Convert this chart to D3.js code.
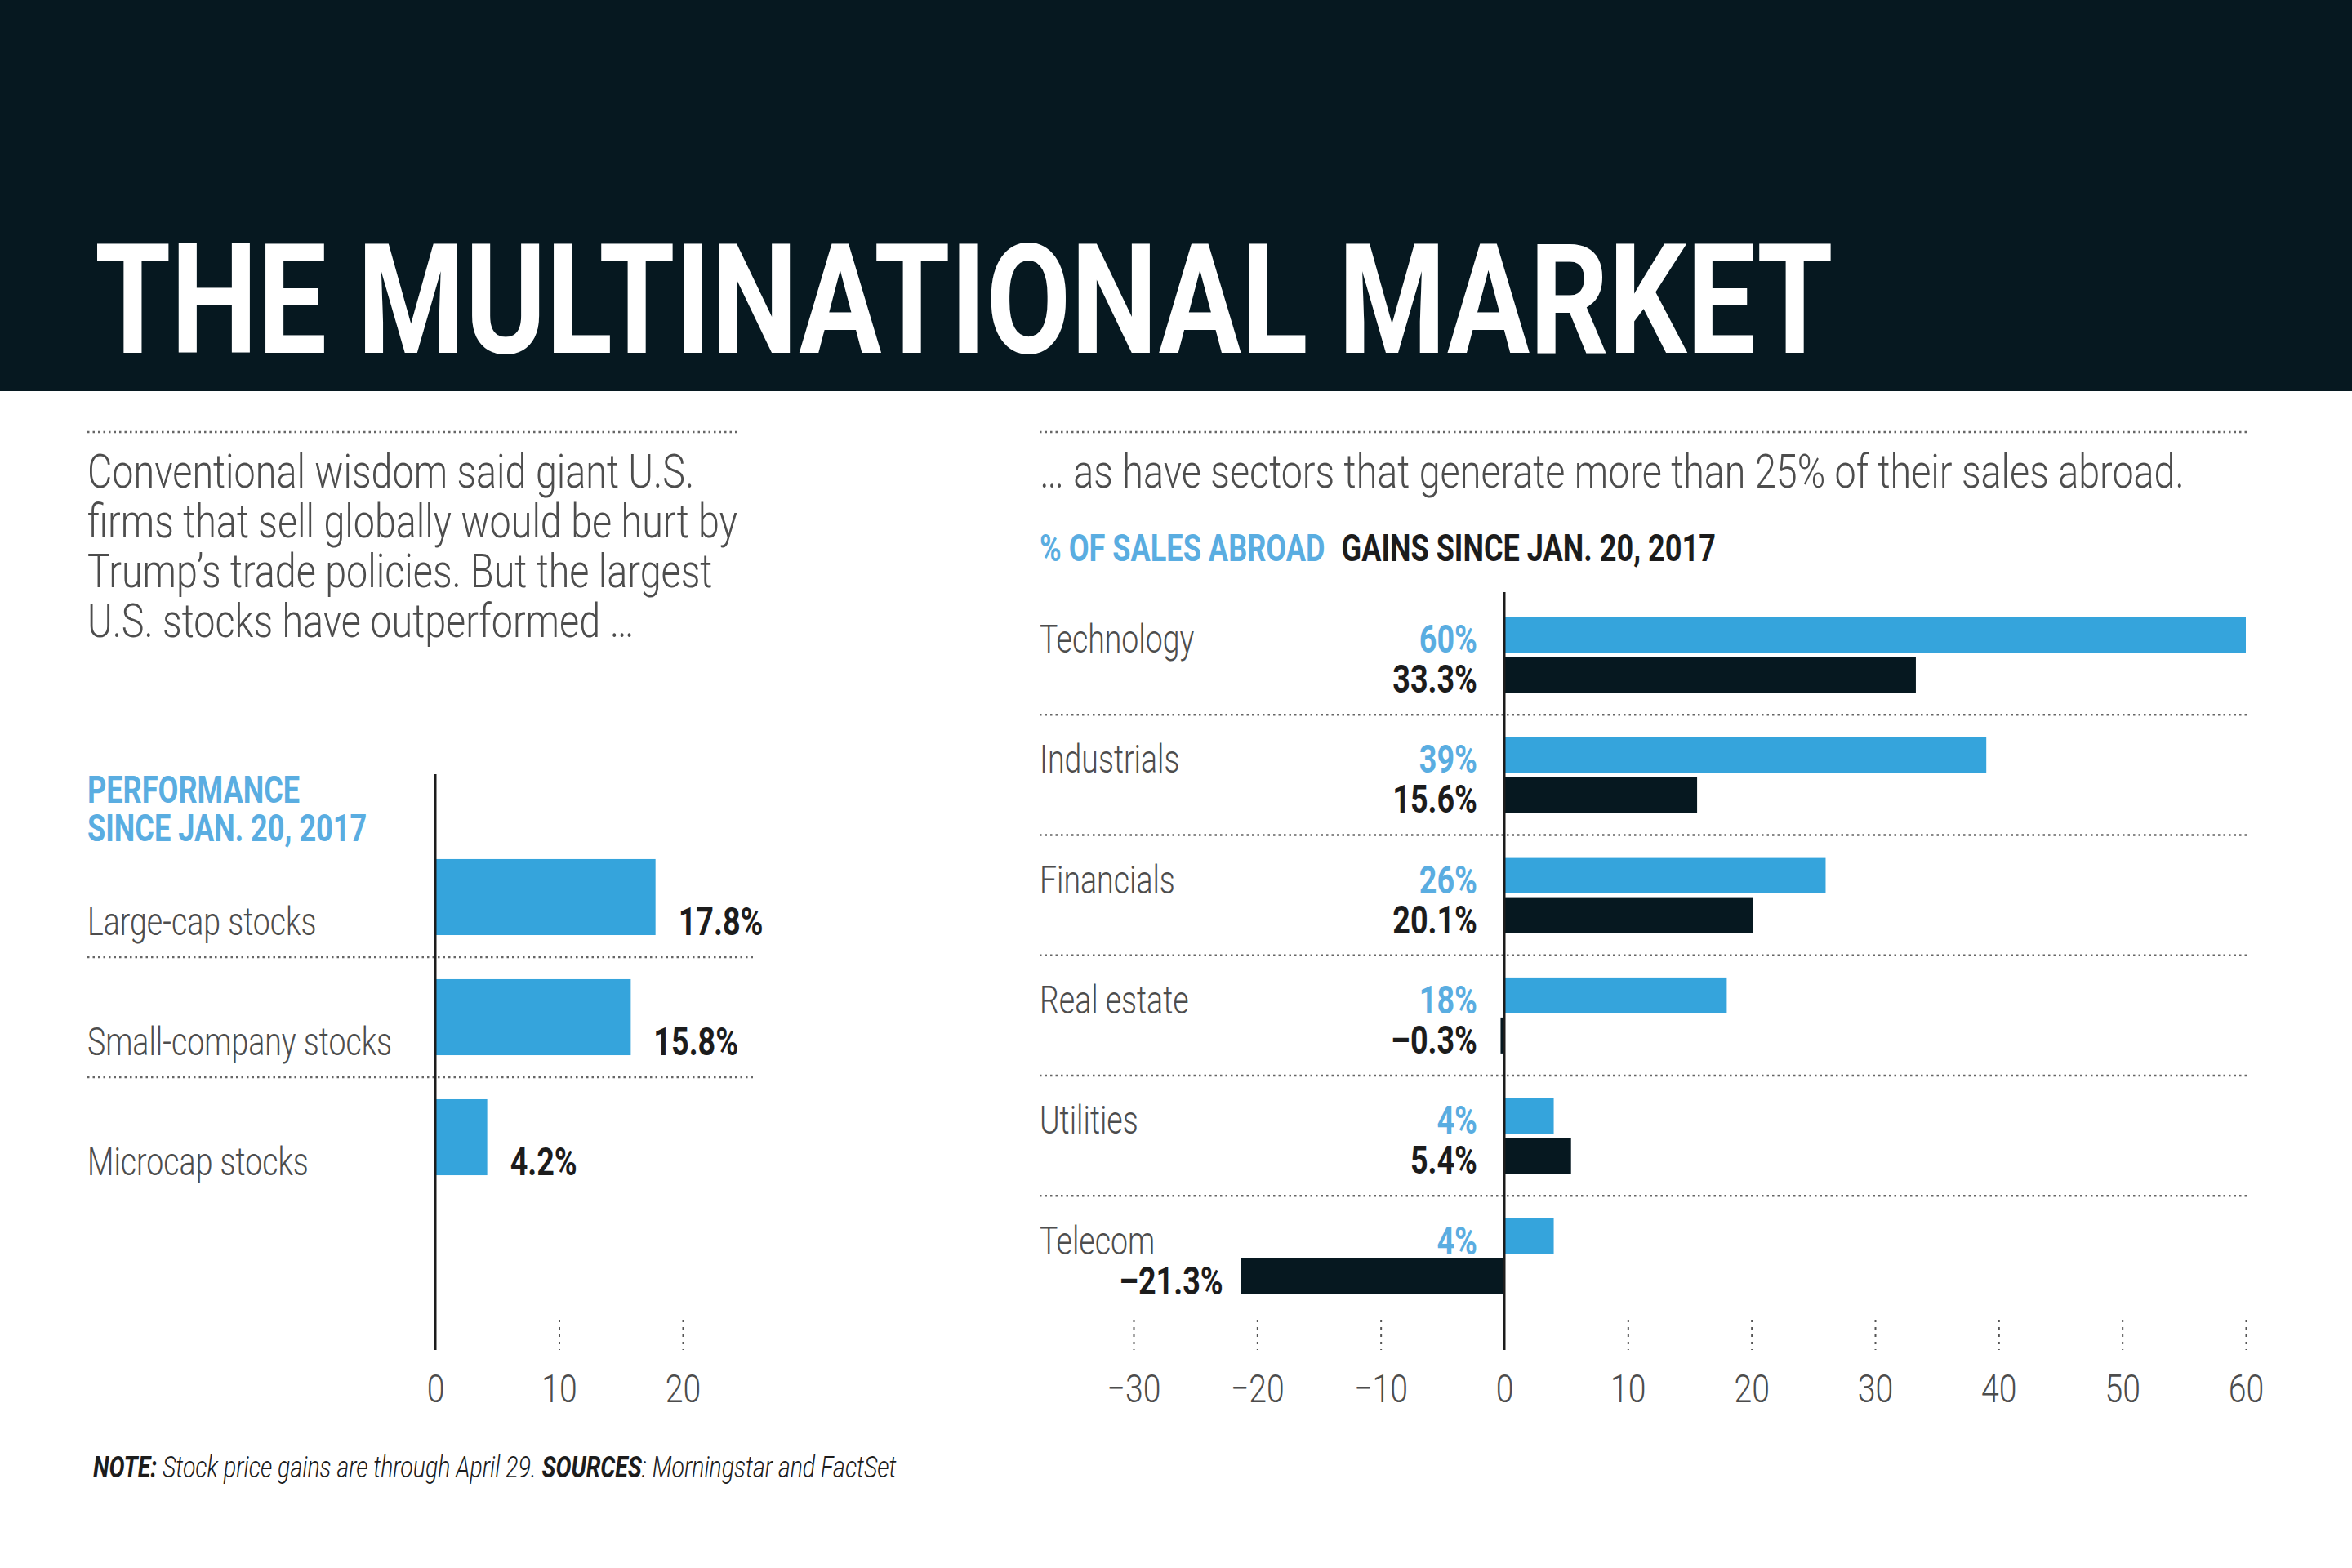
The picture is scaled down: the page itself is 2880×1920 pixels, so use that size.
<!DOCTYPE html>
<html>
<head>
<meta charset="utf-8">
<script src="https://cdn.jsdelivr.net/npm/d3@7"></script>
<style>
  body { margin: 0; background: #fff; }
  svg { display: block; font-family: Roboto, "Noto Sans", sans-serif; }
</style>
</head>
<body>
<script>
// ---- data ----
const titleText = "THE MULTINATIONAL MARKET";
const introLines = [
    "Conventional wisdom said giant U.S.",
    "firms that sell globally would be hurt by",
    "Trump\u2019s trade policies. But the largest",
    "U.S. stocks have outperformed \u2026"
];
const subtitleText = "\u2026 as have sectors that generate more than 25% of their sales abroad.";

const sizeCategories = ["Large-cap stocks", "Small-company stocks", "Microcap stocks"];
const sizeGains = [17.8, 15.8, 4.2];
const sizeTicks = [0, 10, 20];

const sectors = ["Technology", "Industrials", "Financials", "Real estate", "Utilities", "Telecom"];
const salesAbroad = [60, 39, 26, 18, 4, 4];
const sectorGains = [33.3, 15.6, 20.1, -0.3, 5.4, -21.3];
const sectorTicks = [-30, -20, -10, 0, 10, 20, 30, 40, 50, 60];

// ---- look ----
const W = 2880, H = 1920;
const navy = "#061820";
const blue = "#35a4dc";
const blueText = "#5aade1";
const gray = "#4d4d4d";
const ink = "#1c1c1c";

// font size, weight, horizontal squeeze
const styles = {
    title:  { size: 187, weight: 700, k: 0.805 },
    intro:  { size: 58,  weight: 300, k: 0.805 },
    head:   { size: 46,  weight: 700, k: 0.785 },
    label:  { size: 48,  weight: 300, k: 0.78 },
    value:  { size: 49,  weight: 700, k: 0.77 },
    tick:   { size: 49,  weight: 300, k: 0.80 },
    note:   { size: 36,  weight: 300, k: 0.79 }
};

const svg = d3.select("body").append("svg")
    .attr("width", W)
    .attr("height", H);

svg.append("rect").attr("width", W).attr("height", H).attr("fill", "#fff");

function addText(parent, str, x, y, style, fill, anchor = "start") {
    const s = styles[style];
    return parent.append("text")
        .attr("transform", `translate(${x},${y}) scale(${s.k},1)`)
        .attr("font-size", s.size)
        .attr("font-weight", s.weight)
        .attr("fill", fill)
        .attr("text-anchor", anchor)
        .text(str);
}

function dotted(parent, x1, x2, y) {
    parent.append("line")
        .attr("x1", x1).attr("x2", x2)
        .attr("y1", y).attr("y2", y)
        .attr("stroke", "#666")
        .attr("stroke-width", 2.5)
        .attr("stroke-dasharray", "2.5 4");
}

// ---- header ----
svg.append("rect").attr("width", W).attr("height", 479).attr("fill", navy);
addText(svg, titleText, 116, 432, "title", "#fff");

dotted(svg, 107, 906, 529);
dotted(svg, 1273, 2755, 529);

introLines.forEach((line, i) => {
    addText(svg, line, 107, 597 + i * 61, "intro", gray);
});
addText(svg, subtitleText, 1273, 597, "intro", gray);

// ---- left chart: performance by size ----
const left = svg.append("g");

addText(left, "PERFORMANCE", 107, 983, "head", blueText);
addText(left, "SINCE JAN. 20, 2017", 107, 1030, "head", blueText);

const xL = d3.scaleLinear().domain([0, 20]).range([533, 836]);
const yL = d3.scaleBand().domain(sizeCategories).range([998, 1493]).padding(0.367);

sizeCategories.slice(0, -1).forEach(c => {
    dotted(left, 107, 924, yL(c) + yL.bandwidth() + (yL.step() - yL.bandwidth()) / 2);
});

left.selectAll("rect.bar")
    .data(sizeGains)
    .join("rect")
    .attr("class", "bar")
    .attr("x", xL(0))
    .attr("y", (d, i) => yL(sizeCategories[i]))
    .attr("width", d => xL(d) - xL(0))
    .attr("height", yL.bandwidth())
    .attr("fill", blue);

sizeCategories.forEach((c, i) => {
    const base = yL(c) + yL.bandwidth();
    addText(left, c, 107, base, "label", gray);
    addText(left, sizeGains[i].toFixed(1) + "%", xL(sizeGains[i]) + 28, base, "value", ink);
});

const axisL = left.append("g")
    .attr("transform", "translate(0,1616)")
    .call(d3.axisBottom(xL).tickValues(sizeTicks).tickSize(37).tickPadding(29));
axisL.select(".domain").remove();
axisL.selectAll(".tick line")
    .attr("stroke", "#555")
    .attr("stroke-width", 2)
    .attr("stroke-dasharray", "3 6")
    .filter(d => d === 0).remove();
axisL.selectAll(".tick text")
    .attr("font-family", "Roboto, sans-serif")
    .attr("font-size", styles.tick.size)
    .attr("font-weight", styles.tick.weight)
    .attr("fill", gray)
    .attr("transform", `scale(${styles.tick.k},1)`);

left.append("line")
    .attr("x1", xL(0)).attr("x2", xL(0))
    .attr("y1", 948).attr("y2", 1653)
    .attr("stroke", ink).attr("stroke-width", 3);

// ---- right chart: sectors ----
const right = svg.append("g");

const legA = addText(right, "% OF SALES ABROAD", 1273, 687, "head", blueText);
const legW = legA.node().getBBox().width * styles.head.k;
addText(right, "GAINS SINCE JAN. 20, 2017", 1273 + legW + 20, 687, "head", ink);

const xR = d3.scaleLinear().domain([-30, 60]).range([1388, 2750]);
const yR = d3.scaleBand().domain(sectors).range([700.7, 1638.8]).padding(0.3686);
const ySub = d3.scaleBand().domain(["abroad", "gain"]).range([0, yR.bandwidth()]).paddingInner(0.102);

sectors.slice(0, -1).forEach(c => {
    dotted(right, 1273, 2755, yR(c) + yR.bandwidth() + (yR.step() - yR.bandwidth()) / 2);
});

const groups = right.selectAll("g.sector")
    .data(sectors)
    .join("g")
    .attr("class", "sector")
    .attr("transform", d => `translate(0,${yR(d)})`);

groups.append("rect")
    .attr("x", xR(0))
    .attr("y", ySub("abroad"))
    .attr("width", (d, i) => xR(salesAbroad[i]) - xR(0))
    .attr("height", ySub.bandwidth())
    .attr("fill", blue);

groups.append("rect")
    .attr("x", (d, i) => xR(Math.min(0, sectorGains[i])))
    .attr("y", ySub("gain"))
    .attr("width", (d, i) => Math.max(Math.abs(xR(sectorGains[i]) - xR(0)), 4))
    .attr("height", ySub.bandwidth())
    .attr("fill", navy);

const pct = v => (v < 0 ? "\u2013" + Math.abs(v).toFixed(1) : v.toFixed(1)) + "%";

groups.each(function (d, i) {
    const g = d3.select(this);
    const b1 = ySub("abroad") + ySub.bandwidth();
    const b2 = ySub("gain") + ySub.bandwidth();
    addText(g, d, 1273, b1, "label", gray);
    addText(g, salesAbroad[i] + "%", xR(0) - 33, b1, "value", blueText, "end");
    addText(g, pct(sectorGains[i]), Math.min(xR(0) - 33, xR(sectorGains[i]) - 22), b2, "value", ink, "end");
});

const axisR = right.append("g")
    .attr("transform", "translate(0,1616)")
    .call(d3.axisBottom(xR).tickValues(sectorTicks).tickSize(37).tickPadding(29));
axisR.select(".domain").remove();
axisR.selectAll(".tick line")
    .attr("stroke", "#555")
    .attr("stroke-width", 2)
    .attr("stroke-dasharray", "3 6")
    .filter(d => d === 0).remove();
axisR.selectAll(".tick text")
    .attr("font-family", "Roboto, sans-serif")
    .attr("font-size", styles.tick.size)
    .attr("font-weight", styles.tick.weight)
    .attr("fill", gray)
    .attr("transform", `scale(${styles.tick.k},1)`);

right.append("line")
    .attr("x1", xR(0)).attr("x2", xR(0))
    .attr("y1", 725).attr("y2", 1653)
    .attr("stroke", ink).attr("stroke-width", 3);

// ---- footnote ----
const note = svg.append("text")
    .attr("transform", `translate(114,1809) scale(${styles.note.k},1)`)
    .attr("font-size", styles.note.size)
    .attr("font-style", "italic")
    .attr("fill", ink);
note.append("tspan").attr("font-weight", 700).text("NOTE:");
note.append("tspan").attr("font-weight", 300).text(" Stock price gains are through April 29. ");
note.append("tspan").attr("font-weight", 700).text("SOURCES");
note.append("tspan").attr("font-weight", 300).text(": Morningstar and FactSet");
</script>
</body>
</html>
